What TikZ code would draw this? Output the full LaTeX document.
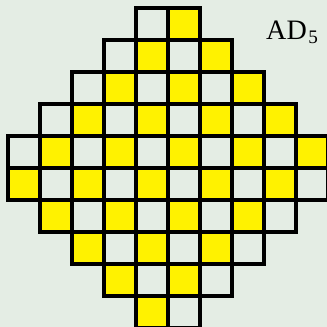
\documentclass[tikz,border=0pt]{standalone}
\usepackage{fontspec}
\usetikzlibrary{positioning}
\newfontfamily\labelfont{Liberation Serif}
\definecolor{paper}{RGB}{228,237,228}
\definecolor{lemon}{RGB}{255,242,0}
\definecolor{ink}{RGB}{0,0,0}
\tikzset{
  cell/.style={draw=ink,line width=2.8pt,line join=miter},
  tag/.style={font=\labelfont\fontsize{25}{30}\selectfont,text=ink,inner sep=0pt},
}

\begin{document}
\begin{tikzpicture}
  \fill[paper] (-0.25,0.03) rectangle (9.97,10.25);
  \useasboundingbox (-0.25,0.03) rectangle (9.97,10.25);
  % rows of the diamond, top to bottom
  \foreach \r in {0,...,9}{
    \pgfmathtruncatemacro{\h}{\r<5 ? \r+1 : 10-\r}
    \pgfmathtruncatemacro{\cfirst}{5-\h}
    \pgfmathtruncatemacro{\clast}{4+\h}
    \foreach \c in {\cfirst,...,\clast}{
      \ifodd\numexpr\r+\c\relax
        \fill[lemon] (\c,9-\r) rectangle ++(1,1);
      \fi
    }
  }
  \foreach \r in {0,...,9}{
    \pgfmathtruncatemacro{\h}{\r<5 ? \r+1 : 10-\r}
    \pgfmathtruncatemacro{\cfirst}{5-\h}
    \pgfmathtruncatemacro{\clast}{4+\h}
    \foreach \c in {\cfirst,...,\clast}
      \draw[cell] (\c,9-\r) rectangle ++(1,1);
  }
  \node[tag,anchor=base] (title) at (8.88,9.03)
    {AD\kern1.5pt\raisebox{-4.4pt}{\fontsize{17}{20}\selectfont 5}};
\end{tikzpicture}
\end{document}
